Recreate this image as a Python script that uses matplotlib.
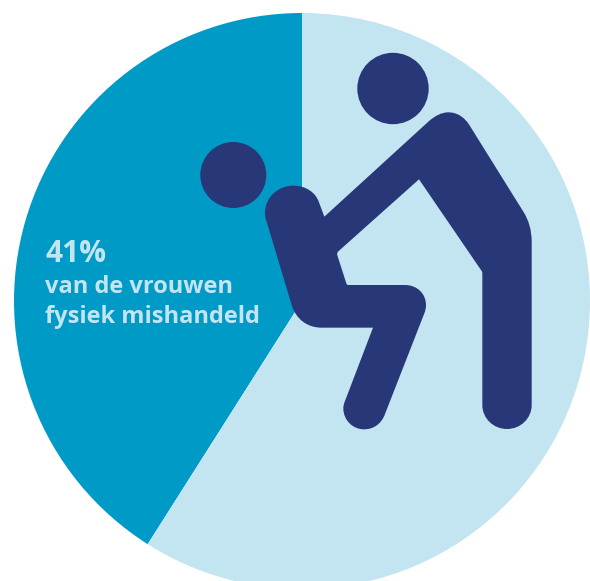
import matplotlib
matplotlib.use("Agg")
import matplotlib.pyplot as plt
from matplotlib.patches import Circle, PathPatch
from matplotlib.path import Path

plt.rcParams['font.family'] = ['Open Sans', 'DejaVu Sans']

# Data
shares = [41, 59]
slice_colors = ['#009AC7', '#C3E4F1']
headline = '41%'
label_lines = ['van de vrouwen', 'fysiek mishandeld']

W, H = 590, 581
INK = '#283777'
LABEL = '#C3E4F1'

fig = plt.figure(figsize=(W / 100, H / 100), dpi=100)
ax = fig.add_axes([0, 0, 1, 1])
ax.pie(shares, colors=slice_colors, startangle=90, counterclock=True,
       center=(302, -301), radius=288, frame=True)
ax.set_xlim(0, W)
ax.set_ylim(-H, 0)
ax.set_aspect('equal')
ax.axis('off')


def P(zx, zy):
    """Outline point measured on the 3x crop starting at (190, 40)."""
    return (190 + zx / 3, -(40 + zy / 3))


M, L, C = Path.MOVETO, Path.LINETO, Path.CURVE4
outline = [
    (M, [(403, 530)]),
    (L, [(715, 245)]),
    (C, [(735, 227), (755, 217), (775, 217)]),
    (C, [(800, 217), (822, 230), (838, 255)]),
    (L, [(1000, 515)]),
    (C, [(1016, 540), (1025, 570), (1025, 605)]),
    (L, [(1025, 1095)]),
    (C, [(1025, 1135), (992, 1167), (951, 1167)]),
    (C, [(910, 1167), (877, 1135), (877, 1095)]),
    (L, [(877, 700)]),
    (C, [(877, 697), (876, 695), (875, 693)]),
    (L, [(687, 418)]),
    (L, [(445, 634)]),
    (C, [(441, 638), (441, 642), (442, 646)]),
    (L, [(469, 730)]),
    (C, [(470, 734), (472, 735), (475, 735)]),
    (L, [(645, 735)]),
    (C, [(682, 735), (708, 762), (708, 795)]),
    (C, [(708, 805), (706, 812), (703, 820)]),
    (L, [(585, 1122)]),
    (C, [(575, 1150), (552, 1168), (522, 1168)]),
    (C, [(488, 1168), (460, 1140), (460, 1105)]),
    (C, [(460, 1097), (462, 1090), (465, 1083)]),
    (L, [(549, 863)]),
    (L, [(395, 863)]),
    (C, [(352, 863), (318, 838), (305, 795)]),
    (L, [(230, 545)]),
    (C, [(226, 535), (225, 527), (225, 518)]),
    (C, [(225, 473), (263, 437), (310, 437)]),
    (C, [(347, 437), (377, 457), (387, 487)]),
    (L, [(403, 530)]),
]
verts, codes = [], []
for code, pts in outline:
    for p in pts:
        verts.append(P(*p))
        codes.append(code)
ax.add_patch(PathPatch(Path(verts, codes), facecolor=INK, edgecolor='none', zorder=5))
ax.add_patch(Circle((393, -88.5), 35.7, color=INK, lw=0, zorder=5))
ax.add_patch(Circle((233.3, -175), 33, color=INK, lw=0, zorder=5))

ax.text(45, -261.5, headline, color=LABEL, fontsize=21.5, fontweight='bold',
        va='baseline', ha='left')
ax.text(45, -293, label_lines[0], color=LABEL, fontsize=17, fontweight='bold',
        va='baseline', ha='left')
ax.text(45, -323, label_lines[1], color=LABEL, fontsize=17, fontweight='bold',
        va='baseline', ha='left')

fig.savefig('out.png', dpi=100)
